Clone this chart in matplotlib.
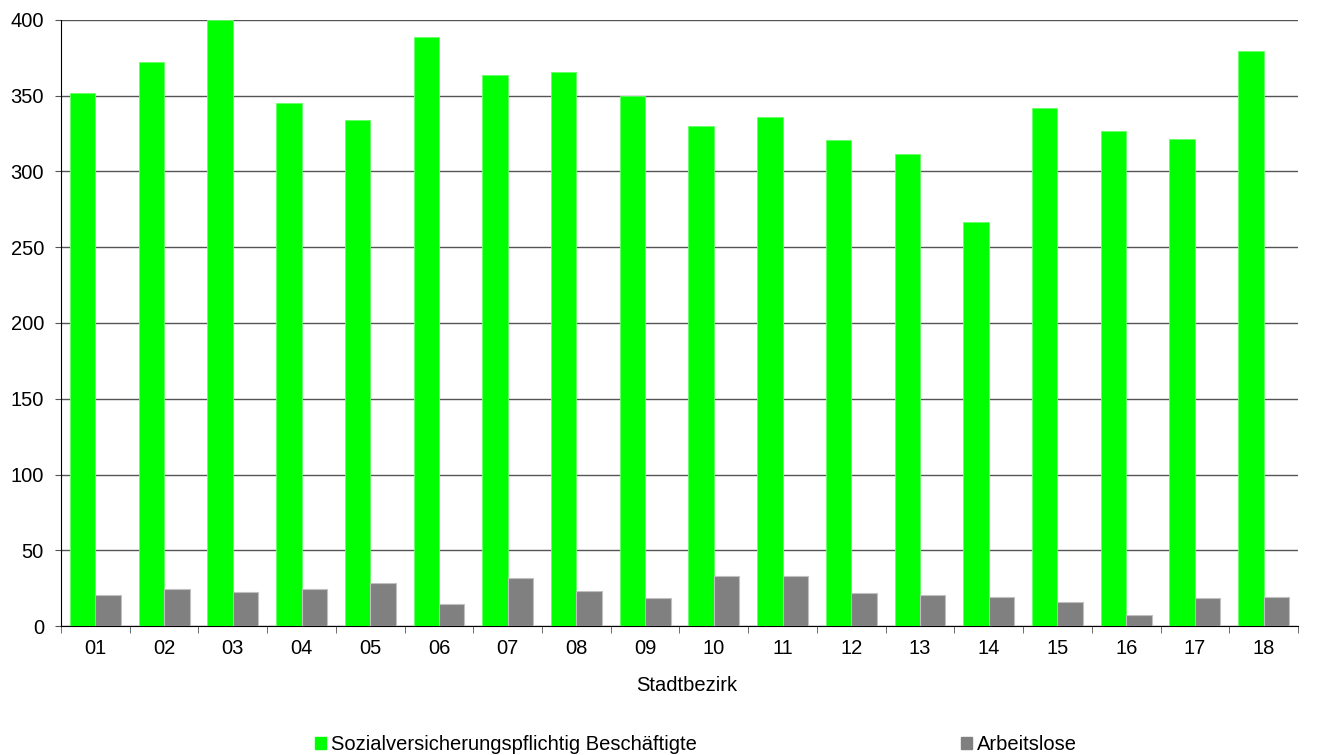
import matplotlib.pyplot as plt
import numpy as np
from matplotlib.patches import Patch

plt.rcParams["font.family"] = ["Liberation Sans", "DejaVu Sans"]

bezirke = ["01", "02", "03", "04", "05", "06", "07", "08", "09",
           "10", "11", "12", "13", "14", "15", "16", "17", "18"]
beschaeftigte = [351.5, 372, 400, 345, 334, 389, 364, 366, 350,
                 330, 336, 321, 311.5, 266.5, 342, 327, 321.5, 379.5]
arbeitslose = [20.7, 24.2, 22.5, 24.7, 28.4, 14.5, 31.5, 23.1, 18.7,
               32.8, 33.0, 21.8, 20.7, 19.2, 16.1, 7.1, 18.7, 19.4]

green = "#00ff00"
grey = "#808080"
fs = 14.5

fig = plt.figure(figsize=(13.17, 7.55), dpi=100)
ax = fig.add_axes([61 / 1317, 1 - 626 / 755, (1298 - 61) / 1317, (626 - 20) / 755])

x = np.arange(len(bezirke))
w = 0.37
ax.bar(x - w / 2, beschaeftigte, w, color=green, edgecolor="#66ff66", linewidth=0.6, zorder=3)
ax.bar(x + w / 2, arbeitslose, w, color=grey, edgecolor="#c0c0c0", linewidth=0.8, zorder=3)

ax.set_xlim(-0.5, len(bezirke) - 0.5)
ax.set_ylim(0, 400)
ax.set_yticks(np.arange(0, 401, 50))
ax.yaxis.grid(True, color="#555555", linewidth=1.0, zorder=0)
ax.set_axisbelow(True)

ax.set_xticks(x)
ax.set_xticklabels(bezirke)
ax.set_xticks(np.arange(-0.5, len(bezirke)), minor=True)
ax.tick_params(axis="x", which="major", length=0, pad=9, labelsize=fs)
ax.tick_params(axis="x", which="minor", length=5, color="#555555")
ax.tick_params(axis="y", length=4.3, color="#555555", labelsize=fs, pad=8)

for side in ["top", "right"]:
    ax.spines[side].set_visible(False)
ax.spines["left"].set_color("black")
ax.spines["bottom"].set_color("black")

ax.set_xlabel("Stadtbezirk", fontsize=fs)
ax.xaxis.set_label_coords((687 - 61) / 1237, (626 - 676) / 606)

# two separate legend boxes so the markers land where the reference has them
lab = ["Sozialversicherungspflichtig Beschäftigte", "Arbeitslose"]
cols = [green, grey]
xpos = [315, 961]
for label, c, xp in zip(lab, cols, xpos):
    leg = fig.legend([Patch(facecolor=c, edgecolor=c)], [label],
                     loc="center left", bbox_to_anchor=(xp / 1317, 1 - 745 / 755),
                     frameon=False, fontsize=fs, handlelength=0.55, handleheight=0.55,
                     handletextpad=0.25, borderpad=0, borderaxespad=0)

plt.savefig("out.png", dpi=100)
